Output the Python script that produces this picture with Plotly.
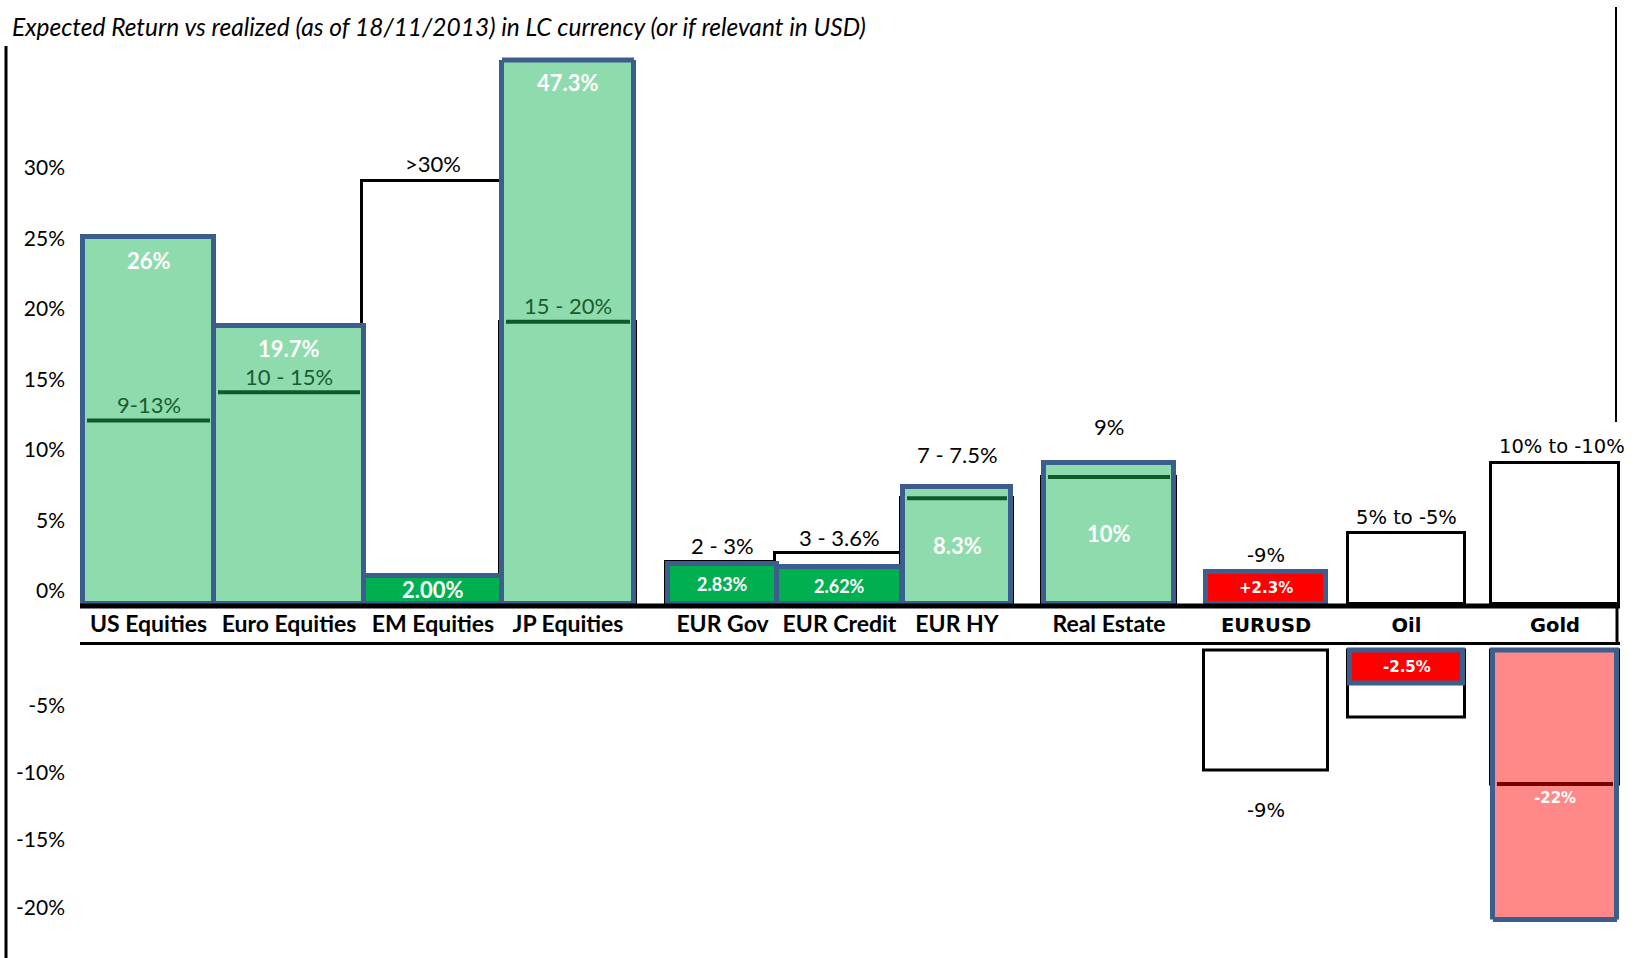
import plotly.graph_objects as go

# ---------------------------------------------------------------- data
categories = ["US Equities", "Euro Equities", "EM Equities", "JP Equities",
              "EUR Gov", "EUR Credit", "EUR HY", "Real Estate",
              "EURUSD", "Oil", "Gold"]

# realized return (%)
realized = [26.0, 19.7, 2.0, 47.3, 2.83, 2.62, 8.3, 10.0, 2.3, -2.5, -22.0]
realized_text = ["26%", "19.7%", "2.00%", "47.3%", "2.83%", "2.62%",
                 "8.3%", "10%", "+2.3%", "-2.5%", "-22%"]

# expected return band: upper and lower bound of the expected box (%)
expected_high = [13.0, 15.0, 30.0, 20.0, 3.0, 3.6, 7.5, 9.0, None, 5.0, 10.0]
expected_low = [None, None, None, None, None, None, None, None, -9.0, -5.0, -10.0]
expected_text = ["9-13%", "10 - 15%", ">30%", "15 - 20%", "2 - 3%", "3 - 3.6%",
                 "7 - 7.5%", "9%", "-9%", "5% to -5%", "10% to -10%"]
below_text = [None, None, None, None, None, None, None, None, "-9%", None, None]

pos_ticks = [0, 5, 10, 15, 20, 25, 30]
neg_ticks = [-5, -10, -15, -20]

# ---------------------------------------------------------------- layout of slots
slot_left = [0.00, 1.31, 2.81, 4.19, 5.85, 6.94, 8.20, 9.61, 11.23, 12.67, 14.10]
slot_width = [1.31, 1.50, 1.38, 1.32, 1.09, 1.25, 1.08, 1.30, 1.20, 1.13, 1.24]
centers = [l + w / 2 for l, w in zip(slot_left, slot_width)]
X_RANGE = [-0.03, 15.37]

W, H = 1635, 958
UP_DOMAIN = [1 - 606 / H, 1 - 60 / H]
UP_RANGE = [-0.142, 38.55]
LO_DOMAIN = [1 - 919.5 / H, 1 - 644.5 / H]
LO_RANGE = [-20.1, 0.41]
X_DOMAIN = [80 / W, 1620 / W]

# ---------------------------------------------------------------- styles
LIGHT = "#8EDBAD"
GREEN = "#00B050"
RED = "#FF0000"
PINK = "#FF8888"
EDGE = "#3B5E8C"
fills = [LIGHT, LIGHT, GREEN, LIGHT, GREEN, GREEN, LIGHT, LIGHT, RED, RED, PINK]
target_line_color = {LIGHT: "#0F5A2C", GREEN: "#0F5A2C", PINK: "#7A0000", RED: "#7A0000"}
realized_anchor = ["top", "top", "mid", "top", "mid", "mid", "mid", "mid", "mid", "mid", "target"]
range_anchor = ["line", "line", "top", "line", "top", "top", "top", "top", "top", "top", "top"]
range_gap = [16, 16, 17, 16, 16, 16, 32, 36, 16, 16, 16]
range_dx = [0, 0, 0, 0, 0, 0, 0, 0, 0, 0, 7]
range_color = ["#1A5C2E", "#1A5C2E", "black", "#1A5C2E", "black", "black",
               "black", "black", "black", "black", "black"]
FONT_A = "Lato, 'Open Sans', sans-serif"
FONT_B = "'DejaVu Sans', Verdana, sans-serif"
font_kind = ["A"] * 8 + ["B"] * 3


def pos(v):
    return v if (v is not None and v > 0) else None


def neg(v):
    return v if (v is not None and v < 0) else None


fig = go.Figure()

# expected boxes (white, black outline) behind the realized bars
fig.add_trace(go.Bar(
    x=centers, y=[pos(v) for v in expected_high], base=0,
    width=[w + 0.04 for w in slot_width],
    marker=dict(color="white", line=dict(color="black", width=3)),
    xaxis="x", yaxis="y", hoverinfo="skip", showlegend=False))
fig.add_trace(go.Bar(
    x=centers, y=[neg(v) for v in expected_low], base=0,
    width=[w + 0.04 for w in slot_width],
    marker=dict(color="white", line=dict(color="black", width=3)),
    xaxis="x", yaxis="y2", hoverinfo="skip", showlegend=False))

# realized bars
fig.add_trace(go.Bar(
    x=centers, y=[pos(v) for v in realized], base=0, width=slot_width,
    marker=dict(color=fills, line=dict(color=EDGE, width=5)),
    xaxis="x", yaxis="y", showlegend=False))
fig.add_trace(go.Bar(
    x=centers, y=[neg(v) for v in realized], base=0, width=slot_width,
    marker=dict(color=fills, line=dict(color=EDGE, width=5)),
    xaxis="x", yaxis="y2", showlegend=False))

# expected level drawn across realized bars that overshoot it
for i, r in enumerate(realized):
    for e, ax in ((expected_high[i], "y"), (expected_low[i], "y2")):
        if e is None or r * e <= 0 or abs(r) <= abs(e):
            continue
        fig.add_trace(go.Scatter(
            x=[slot_left[i] + 0.04, slot_left[i] + slot_width[i] - 0.04], y=[e, e],
            mode="lines", line=dict(color=target_line_color[fills[i]], width=4),
            xaxis="x", yaxis=ax, hoverinfo="skip", showlegend=False))

annotations = []

# realized value labels (white, bold)
for i, r in enumerate(realized):
    ax = "y" if r > 0 else "y2"
    fnt = FONT_A if font_kind[i] == "A" else FONT_B
    size = 15 if font_kind[i] == "B" else (18 if realized[i] in (2.83, 2.62) else 22)
    if realized_anchor[i] == "top":
        y = min(r, UP_RANGE[1])
        ys = -23
    elif realized_anchor[i] == "mid":
        y = r / 2
        ys = 0
    else:
        y = expected_low[i]
        ys = -14
    annotations.append(dict(
        x=centers[i], y=y, xref="x", yref=ax, text=f"<b>{realized_text[i]}</b>",
        showarrow=False, yanchor="middle", yshift=ys,
        font=dict(family=fnt, size=size, color="white")))

# expected range labels
for i, t in enumerate(expected_text):
    fnt = FONT_A if font_kind[i] == "A" else FONT_B
    size = 22 if font_kind[i] == "A" else 19.5
    if range_anchor[i] == "line":
        y = expected_high[i]
    else:
        y = max(v for v in (pos(realized[i]), expected_high[i], 0) if v is not None)
    annotations.append(dict(
        x=centers[i], y=y, xref="x", yref="y", text=t, showarrow=False,
        yanchor="middle", yshift=range_gap[i], xshift=range_dx[i],
        font=dict(family=fnt, size=size, color=range_color[i])))
    if below_text[i]:
        annotations.append(dict(
            x=centers[i], y=expected_low[i], xref="x", yref="y2", text=below_text[i],
            showarrow=False, yanchor="middle", yshift=-40,
            font=dict(family=fnt, size=size, color="black")))

# title
annotations.append(dict(
    x=10 / W, y=1 - 26 / H, xref="paper", yref="paper", xanchor="left", yanchor="middle",
    text="<i>Expected Return vs realized (as of 18/11/2013) in LC currency (or if relevant in USD)</i>",
    showarrow=False, font=dict(family=FONT_A, size=24.5, color="black")))


def xdom(v):
    return (v - X_RANGE[0]) / (X_RANGE[1] - X_RANGE[0])


shapes = [
    # left frame line
    dict(type="line", xref="paper", yref="paper", x0=6 / W, x1=6 / W, y0=1 - 46 / H, y1=0,
         line=dict(color="black", width=3)),
    # right frame segments
    dict(type="line", xref="paper", yref="paper", x0=1616 / W, x1=1616 / W,
         y0=1 - 7 / H, y1=1 - 422 / H, line=dict(color="black", width=2)),
    dict(type="line", xref="paper", yref="paper", x0=1617 / W, x1=1617 / W,
         y0=1 - 605 / H, y1=1 - 645 / H, line=dict(color="black", width=3)),
    # baseline of the positive panel
    dict(type="line", xref="x domain", yref="y domain", x0=0, x1=1, y0=0, y1=0,
         line=dict(color="black", width=5), layer="above"),
]

# caps on bars running past the panel edge
for i, r in enumerate(realized):
    if r > UP_RANGE[1]:
        shapes.append(dict(type="line", xref="x domain", yref="y domain",
                           x0=xdom(slot_left[i]), x1=xdom(slot_left[i] + slot_width[i]),
                           y0=1, y1=1, line=dict(color=EDGE, width=5)))
    if r < LO_RANGE[0]:
        shapes.append(dict(type="line", xref="x domain", yref="y2 domain",
                           x0=xdom(slot_left[i]), x1=xdom(slot_left[i] + slot_width[i]),
                           y0=0, y1=0, line=dict(color=EDGE, width=5)))

tick_labels = [c if k == "A" else
               f'<span style="font-family:DejaVu Sans;font-size:19.5px">{c}</span>'
               for c, k in zip(categories, font_kind)]

fig.update_layout(
    width=W, height=H, margin=dict(l=0, r=0, t=0, b=0, pad=0, autoexpand=False),
    paper_bgcolor="white", plot_bgcolor="rgba(0,0,0,0)",
    barmode="overlay", bargap=0, showlegend=False,
    annotations=annotations, shapes=shapes,
    xaxis=dict(domain=X_DOMAIN, range=X_RANGE, anchor="y2", side="top",
               tickvals=centers, ticktext=tick_labels, ticks="", automargin=False,
               tickfont=dict(family=FONT_A, size=23, color="black", weight="bold"),
               showline=True, linecolor="black", linewidth=3,
               showgrid=False, zeroline=False, fixedrange=True),
    yaxis=dict(domain=UP_DOMAIN, range=UP_RANGE, anchor="x", automargin=False,
               tickvals=pos_ticks, ticktext=[f"{t}%" for t in pos_ticks],
               ticks="", ticklabelstandoff=14, ticklabelshift=-13,
               tickfont=dict(family=FONT_A, size=21, color="black"),
               showline=False, showgrid=False, zeroline=False),
    yaxis2=dict(domain=LO_DOMAIN, range=LO_RANGE, anchor="x", automargin=False,
                tickvals=neg_ticks, ticktext=[f"{t}%" for t in neg_ticks],
                ticks="", ticklabelstandoff=14, ticklabelshift=-11,
                tickfont=dict(family=FONT_A, size=21, color="black"),
                showline=False, showgrid=False, zeroline=False),
)

fig.write_html("out.html")
